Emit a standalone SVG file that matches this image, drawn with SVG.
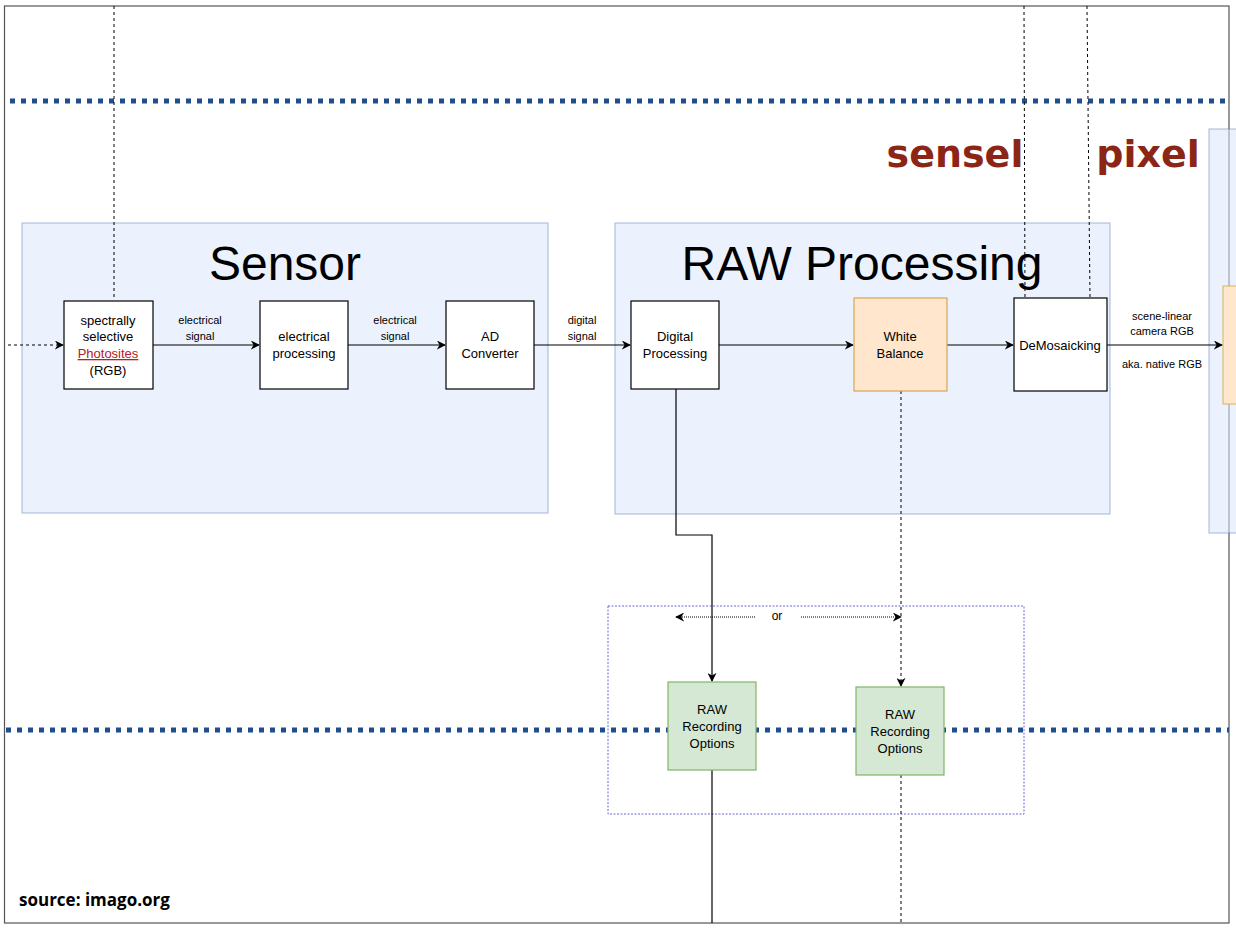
<svg xmlns="http://www.w3.org/2000/svg" width="1236" height="930" viewBox="0 0 1236 930">
<defs>
<marker id="ar" viewBox="0 0 10 10" refX="9" refY="5" markerWidth="9" markerHeight="9" markerUnits="userSpaceOnUse" orient="auto"><path d="M0,0 L10,5 L0,10 L3,5 Z" fill="#000"/></marker>
<style>
.t{font-family:"Liberation Sans",Arial,sans-serif;fill:#000;text-anchor:middle}
.s{font-size:13px}.m{font-size:12px}.l{font-size:11px}
.box{fill:#fff;stroke:#000;stroke-width:1.2}
.grp{fill:#dae8fc;fill-opacity:0.55;stroke:#6c8ebf;stroke-opacity:0.5;stroke-width:1.2}
.c{fill:none;stroke:#000;stroke-width:1.2}
.d{fill:none;stroke:#000;stroke-width:1;stroke-dasharray:3 3}
.blue{stroke:#1f4e8c;stroke-width:5;stroke-dasharray:5 6;fill:none}
.red{font-family:"DejaVu Sans",sans-serif;font-weight:bold;font-size:38px;fill:#8b2516;text-anchor:middle}
</style>
</defs>
<rect x="0" y="0" width="1236" height="930" fill="#fff"/>
<rect x="4.5" y="6" width="1224.5" height="917" fill="none" stroke="#555" stroke-width="1.2"/>
<g id="sensor-group"><rect class="grp" x="22" y="223" width="526" height="290"/><text class="t" x="285" y="280" font-size="48">Sensor</text></g>
<g id="raw-group"><rect class="grp" x="615" y="223" width="495" height="291"/><text class="t" x="862" y="280" font-size="48">RAW Processing</text></g>
<g id="right-group"><rect class="grp" x="1209" y="129" width="30" height="404"/><rect x="1223" y="286" width="20" height="118" fill="#ffe6cc" stroke="#d6b656"/></g>
<g id="or-group"><rect x="608" y="606" width="416" height="208" fill="none" stroke="#6666dd" stroke-width="1" stroke-dasharray="2 1.5"/></g>
<g id="lines">
<line class="blue" x1="10" y1="101" x2="1229" y2="101"/>
<line class="blue" x1="6" y1="730" x2="1229" y2="730"/>
</g>
<g id="labels-red"><text class="red" x="955" y="167">sensel</text><text class="red" x="1148" y="167">pixel</text></g>
<g id="connectors">
<line class="d" x1="114" y1="6" x2="114" y2="300"/>
<line class="d" x1="1024" y1="6" x2="1025" y2="298"/>
<line class="d" x1="1087" y1="6" x2="1090" y2="298"/>
<line class="d" x1="8" y1="345" x2="63" y2="345" marker-end="url(#ar)"/>
<line class="c" x1="153" y1="345" x2="259" y2="345" marker-end="url(#ar)"/>
<line class="c" x1="348" y1="345" x2="445" y2="345" marker-end="url(#ar)"/>
<line class="c" x1="534" y1="345" x2="630" y2="345" marker-end="url(#ar)"/>
<line class="c" x1="719" y1="345" x2="853" y2="345" marker-end="url(#ar)"/>
<line class="c" x1="947" y1="345" x2="1013" y2="345" marker-end="url(#ar)"/>
<line class="c" x1="1107" y1="345" x2="1222" y2="345" marker-end="url(#ar)"/>
<path class="c" d="M676,389 V535 H712 V681" marker-end="url(#ar)"/>
<line class="c" x1="712" y1="770" x2="712" y2="923"/>
<line class="d" x1="901" y1="391" x2="901" y2="686" marker-end="url(#ar)"/>
<line class="d" x1="901" y1="775" x2="901" y2="923"/>
<line x1="755" y1="617" x2="676" y2="617" stroke="#000" stroke-dasharray="1 1" marker-end="url(#ar)"/>
<line x1="801" y1="617" x2="901" y2="617" stroke="#000" stroke-dasharray="1 1" marker-end="url(#ar)"/>
<text class="t l" x="200" y="324">electrical</text><text class="t l" x="200" y="340">signal</text>
<text class="t l" x="395" y="324">electrical</text><text class="t l" x="395" y="340">signal</text>
<text class="t l" x="582" y="324">digital</text><text class="t l" x="582" y="340">signal</text>
<text class="t l" x="1162" y="320">scene-linear</text><text class="t l" x="1162" y="335">camera RGB</text>
<text class="t l" x="1162" y="368">aka. native RGB</text>
<text class="t m" x="777" y="620">or</text>
</g>
<g id="photosites"><rect class="box" x="64" y="301" width="89" height="88"/>
<text class="t s" x="108" y="325">spectrally</text><text class="t s" x="108" y="341">selective</text>
<text class="t s" x="108" y="358" fill="#b22222" style="fill:#b22222;text-decoration:underline">Photosites</text><text class="t s" x="108" y="375">(RGB)</text></g>
<g id="elec-proc"><rect class="box" x="260" y="301" width="88" height="88"/><text class="t s" x="304" y="341">electrical</text><text class="t s" x="304" y="358">processing</text></g>
<g id="adc"><rect class="box" x="446" y="301" width="88" height="88"/><text class="t s" x="490" y="341">AD</text><text class="t s" x="490" y="358">Converter</text></g>
<g id="digital-proc"><rect class="box" x="631" y="301" width="88" height="88"/><text class="t s" x="675" y="341">Digital</text><text class="t s" x="675" y="358">Processing</text></g>
<g id="white-balance"><rect x="854" y="298" width="93" height="93" fill="#ffe6cc" stroke="#d6a656" stroke-width="1.2"/><text class="t s" x="900" y="341">White</text><text class="t s" x="900" y="358">Balance</text></g>
<g id="demosaicking"><rect class="box" x="1014" y="298" width="93" height="93"/><text class="t s" x="1060" y="350">DeMosaicking</text></g>
<g id="raw1"><rect x="668" y="682" width="88" height="88" fill="#d5e8d4" stroke="#82b366" stroke-width="1.2"/><text class="t s" x="712" y="714">RAW</text><text class="t s" x="712" y="731">Recording</text><text class="t s" x="712" y="748">Options</text></g>
<g id="raw2"><rect x="856" y="687" width="88" height="88" fill="#d5e8d4" stroke="#82b366" stroke-width="1.2"/><text class="t s" x="900" y="719">RAW</text><text class="t s" x="900" y="736">Recording</text><text class="t s" x="900" y="753">Options</text></g>
<text x="19" y="906" font-family="'Open Sans',sans-serif" font-weight="bold" font-size="17">source: imago.org</text>
</svg>
